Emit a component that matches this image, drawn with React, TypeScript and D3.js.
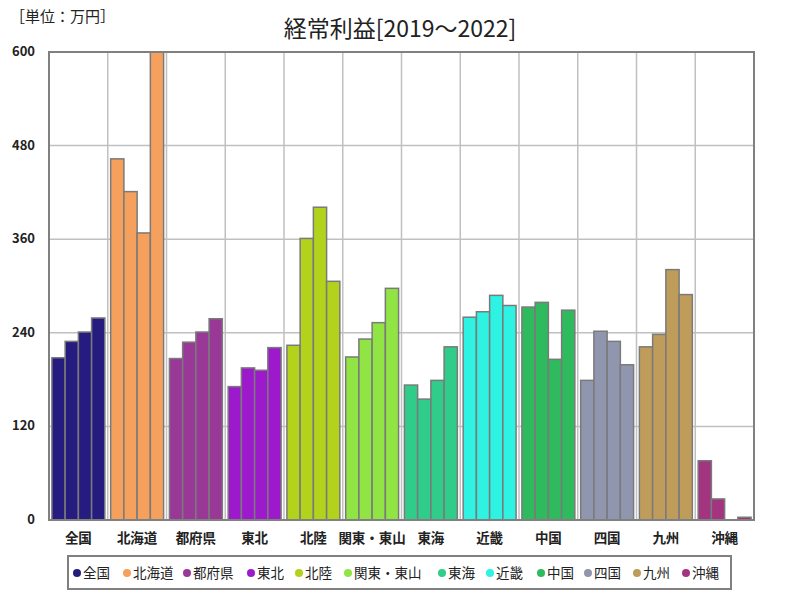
import React from "react";
import * as d3 from "d3";

const categories = ["全国", "北海道", "都府県", "東北", "北陸", "関東・東山", "東海", "近畿", "中国", "四国", "九州", "沖縄"];
const years = ["2019", "2020", "2021", "2022"];
const values: number[][] = [
  [208, 229, 241, 259],
  [463, 421, 368, 600],
  [207, 228, 241, 258],
  [171, 195, 192, 221],
  [224, 361, 401, 306],
  [209, 232, 253, 297],
  [173, 155, 179, 222],
  [260, 267, 288, 275],
  [273, 279, 206, 269],
  [179, 242, 229, 199],
  [222, 238, 321, 289],
  [76, 27, 0, 3.5],
];
const colors = ["#261c80", "#f5a05c", "#9a3898", "#9c1acc", "#b2d21c", "#90e444", "#2fcc8a", "#2ef2e2", "#2fba5e", "#9096ae", "#c09c5a", "#a33480"];
const yTicks = [0, 120, 240, 360, 480, 600];

const W = 800, H = 600;
const L = 49, R = 754, T = 52, B = 520;

export default function App() {
  const x = d3.scaleBand<string>().domain(categories).range([L, R]).padding(0);
  const xi = d3.scaleBand<string>().domain(years).range([0, x.bandwidth()]).paddingInner(0).paddingOuter(0.22);
  const y = d3.scaleLinear().domain([0, 600]).range([B, T]);
  const legendX = [77, 127, 187, 251, 299, 348, 442, 490, 541, 588, 637, 686];
  return (
    <svg width={W} height={H} style={{ position: "absolute", left: 0, top: 0, background: "#fff" }}>
      <text x={10} y={22} fontSize={15} fontFamily="'Noto Sans CJK JP'" fill="#222">［単位：万円］</text>
      <text x={400} y={37} fontSize={23} textAnchor="middle" fontFamily="'Noto Sans CJK JP'" fill="#222">経常利益[2019～2022]</text>
      {yTicks.map((t) => (
        <g key={t}>
          <line x1={L} x2={R} y1={y(t)} y2={y(t)} stroke="#c0c0c0" strokeWidth={1.5} />
          <text x={35} y={y(t) + 4} fontSize={13} fontWeight="bold" textAnchor="end" fontFamily="'Noto Sans CJK JP'" fill="#222">{t}</text>
        </g>
      ))}
      {categories.slice(1).map((c) => (
        <line key={c} x1={x(c)!} x2={x(c)!} y1={T} y2={B} stroke="#c0c0c0" strokeWidth={1.5} />
      ))}
      {categories.map((c, ci) => (
        <g key={c}>
          {years.map((yr, yi) => {
            const v = values[ci][yi];
            if (v <= 0) return null;
            return (
              <rect key={yr} x={x(c)! + xi(yr)!} y={y(v)} width={xi.bandwidth()} height={B - y(v)}
                fill={colors[ci]} stroke="#7a7a7a" strokeWidth={1.5} />
            );
          })}
          <text x={x(c)! + x.bandwidth() / 2} y={543} fontSize={13.5} fontWeight="bold" textAnchor="middle" fontFamily="'Noto Sans CJK JP'" fill="#222">{c}</text>
        </g>
      ))}
      <rect x={L} y={T} width={R - L} height={B - T} fill="none" stroke="#808080" strokeWidth={2} />
      <rect x={68} y={556} width={663} height={33} fill="#fff" stroke="#808080" strokeWidth={2} />
      {categories.map((c, ci) => (
        <g key={c}>
          <circle cx={legendX[ci]} cy={573} r={4} fill={colors[ci]} />
          <text x={legendX[ci] + 6} y={578} fontSize={13.5} fontFamily="'Noto Sans CJK JP'" fill="#222">{c}</text>
        </g>
      ))}
    </svg>
  );
}
